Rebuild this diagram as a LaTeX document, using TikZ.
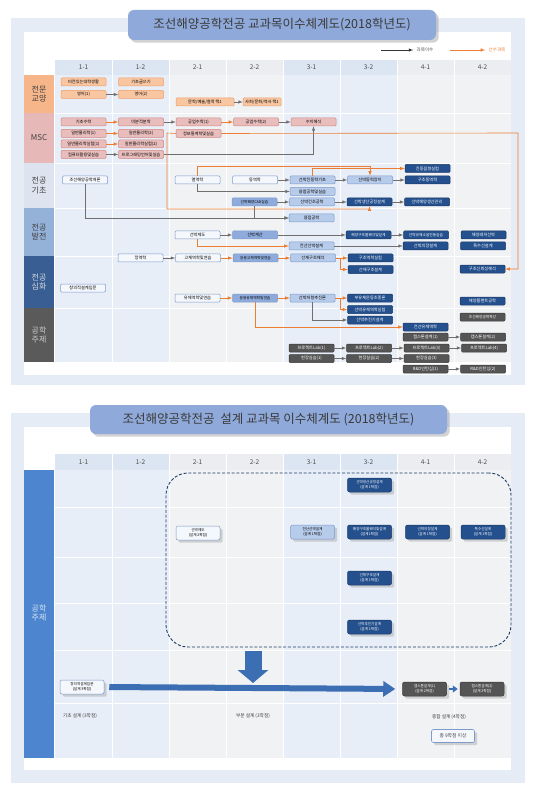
\documentclass[tikz,border=0pt]{standalone}
\usepackage{fontspec}
\setmainfont{Noto Sans CJK KR}
\usetikzlibrary{positioning,arrows.meta,shadows}

\definecolor{panelbg}{HTML}{E6ECF5}
\definecolor{colblue}{HTML}{E8EEF7}
\definecolor{colgray}{HTML}{F1F2F4}
\definecolor{headblue}{HTML}{DCE5F2}
\definecolor{headgray}{HTML}{ECEDF0}
\definecolor{titlebg}{HTML}{8FAADA}
\definecolor{titletxt}{HTML}{3A3A3A}
\definecolor{gyoF}{HTML}{F9C6A2}
\definecolor{gyoD}{HTML}{EE9E68}
\definecolor{mscF}{HTML}{E8BDBC}
\definecolor{mscD}{HTML}{CF8886}
\definecolor{wF}{HTML}{F4F7FC}
\definecolor{bD}{HTML}{7C9BCB}
\definecolor{lF}{HTML}{B7CBEA}
\definecolor{mF}{HTML}{8EABDB}
\definecolor{dF}{HTML}{24508E}
\definecolor{dD}{HTML}{1A3A66}
\definecolor{gF}{HTML}{555555}
\definecolor{gD}{HTML}{3A3A3A}
\definecolor{preline}{HTML}{ED7D31}
\definecolor{seqline}{HTML}{6F6F6F}
\definecolor{rowGyo}{HTML}{F7B68A}
\definecolor{rowMsc}{HTML}{E6B9B8}
\definecolor{rowBase}{HTML}{DDE4EF}
\definecolor{rowDev}{HTML}{94B1D8}
\definecolor{rowDeep}{HTML}{385E94}
\definecolor{rowTopic}{HTML}{5A5A5A}
\definecolor{designbar}{HTML}{4D85CF}
\definecolor{arrowblue}{HTML}{3C6EB4}
\definecolor{dashblue}{HTML}{1F3D6B}

\begin{document}
\begin{tikzpicture}[x=1pt, y=-1pt, >=latex]
        % Styles
        \tikzstyle{cbox} = [draw, rectangle, rounded corners=1pt, minimum width=45pt, minimum height=8pt, inner sep=0.5pt, line width=0.5pt, font=\fontsize{4.2}{4.6}\selectfont]
        \tikzstyle{gyo} = [cbox, fill=gyoF, draw=gyoD]
        \tikzstyle{msc} = [cbox, fill=mscF, draw=mscD]
        \tikzstyle{wbox} = [cbox, fill=wF, draw=bD]
        \tikzstyle{lbox} = [cbox, fill=lF, draw=bD]
        \tikzstyle{mbox} = [cbox, fill=mF, draw=bD]
        \tikzstyle{dbox} = [cbox, fill=dF, draw=dD, text=white]
        \tikzstyle{gbox} = [cbox, fill=gF, draw=gD, text=white]
        \tikzstyle{tight} = [font=\fontsize{3.7}{4.2}\selectfont]
        \tikzstyle{cbox2} = [cbox, minimum width=44pt, minimum height=14pt, rounded corners=2pt, align=center, font=\fontsize{3.6}{4.6}\selectfont, drop shadow={opacity=0.3}]
        \tikzstyle{flow} = [->, draw=seqline, line width=0.5pt]
        \tikzstyle{prereq} = [->, draw=preline, line width=0.6pt]
        \tikzstyle{semlab} = [font=\fontsize{6.5}{7}\selectfont, text=black!70]
        \tikzstyle{rowlab} = [align=center, font=\fontsize{8}{9.5}\selectfont, text=black!75]
        \tikzstyle{titlebox} = [fill=titlebg, rounded corners=6pt, drop shadow={opacity=0.35}, font=\fontsize{12.5}{14}\selectfont, text=titletxt]
        \tikzstyle{steplab} = [font=\fontsize{4.7}{5}\selectfont, text=black!75]
        \tikzstyle{fatdown} = [line width=17pt, draw=arrowblue, -{Triangle[length=13pt,width=30pt]}]
        \tikzstyle{fatright} = [line width=6pt, draw=arrowblue, -{Triangle[length=12pt,width=15pt]}]
        \tikzstyle{fatsmall} = [line width=2.5pt, draw=arrowblue, -{Triangle[length=5pt,width=7pt]}]

        \fill[white] (0,0) rectangle (547,799);
        \useasboundingbox (0,0) rectangle (547,799);

        % ===== Upper chart =====
        \fill[panelbg] (11,18) rectangle (525,385);
        \fill[white] (24,32) rectangle (511,375);
        \node[titlebox, minimum width=308pt, minimum height=30pt] (title1) at (282,25) {조선해양공학전공 교과목이수체계도(2018학년도)};

        % legend
        \coordinate (lgA) at (381,50);
        \node[font=\fontsize{4.5}{5}\selectfont, text=black!70] (lgtextA) at (425,50) {과목이수};
        \draw[->, black!80, line width=0.5pt] (lgA) -- (lgtextA.west);
        \coordinate (lgB) at (450,50);
        \node[font=\fontsize{4.5}{5}\selectfont, text=preline] (lgtextB) at (497,50) {선수과목};
        \draw[->, preline, line width=0.6pt] (lgB) -- (lgtextB.west);

        % columns
        \foreach \i/\hc/\bc in {0/headblue/colblue,1/headblue/colblue,2/headgray/colgray,3/headgray/colgray,4/headblue/colblue,5/headblue/colblue,6/headgray/colgray,7/headgray/colgray} {
            \fill[\hc] ({55+57*\i},60) rectangle ++(57,15);
            \fill[\bc] ({55+57*\i},75) rectangle ++(57,287);
        }
        \foreach \i in {1,...,7}
            \draw[white, line width=0.6pt] ({55+57*\i},60) -- ({55+57*\i},362);
        \foreach \y in {113,163,208,256,308}
            \draw[white, line width=0.8pt] (55,\y) -- (511,\y);
        \foreach \s [count=\i from 0] in {1-1,1-2,2-1,2-2,3-1,3-2,4-1,4-2}
            \node[semlab] (semT\i) at ({83.5+57*\i},67.5) {\s};

        % row labels
        \foreach \a/\b/\c in {75/113/rowGyo,113/163/rowMsc,163/208/rowBase,208/256/rowDev,256/308/rowDeep,308/362/rowTopic}
            \fill[\c] (24,\a) rectangle (54,\b);
        \node[rowlab] (rGyo) at (39,94) {전문\\교양};
        \node[rowlab] (rMsc) at (39,138) {MSC};
        \node[rowlab] (rBase) at (39,185.5) {전공\\기초};
        \node[rowlab] (rDev) at (39,232) {전공\\발전};
        \node[rowlab, text=white!85!black] (rDeep) at (39,282) {전공\\심화};
        \node[rowlab, text=white!80!black] (rTopic) at (39,335) {공학\\주제};

        % --- 전문교양 ---
        \node[gyo] (fresh) at (83.5,82) {비전있는대학생활};
        \node[gyo, below=4pt of fresh] (eng1) {영어(1)};
        \node[gyo, right=12pt of fresh] (write) {기초글쓰기};
        \node[gyo, right=12pt of eng1] (eng2) {영어(2)};
        \node[gyo, minimum width=58pt] (arts) at (205,102) {문학/예술/철학 택1};
        \node[gyo, minimum width=38pt] (social) at (262,102) {사회/문화/역사 택1};

        % --- MSC ---
        \node[msc] (math) at (83.5,122) {기초수학};
        \node[msc, below=3pt of math] (phys1) {일반물리학(1)};
        \node[msc, below=2pt of phys1] (plab1) {일반물리학실험(1)};
        \node[msc, below=2pt of plab1] (comp) {컴퓨터활용및실습};
        \node[msc, right=12pt of math] (calc) {미분적분학};
        \node[msc, right=12pt of phys1] (phys2) {일반물리학(2)};
        \node[msc, right=12pt of plab1] (plab2) {일반물리학실험(2)};
        \node[msc, right=12pt of comp] (prog) {프로그래밍언어및실습};
        \node[msc, right=12pt of calc] (em1) {공업수학(1)};
        \node[msc, right=12pt of phys2] (stat) {정보통계학및실습};
        \node[msc, right=12pt of em1] (em2) {공업수학(2)};
        \node[msc, right=12pt of em2] (numer) {수치해석};

        % --- 전공기초 ---
        \node[wbox] (intro) at (85,180) {조선해양공학개론};
        \node[wbox] (thermo) at (197.5,180) {열역학};
        \node[wbox, right=12pt of thermo] (dyn) {동역학};
        \node[lbox, right=12pt of dyn] (vibbase) {선박진동학기초};
        \node[lbox, right=12pt of vibbase] (power) {선박동력장치};
        \node[dbox, right=12pt of power] (strdyn) {구조동역학};
        \node[dbox, above=3pt of strdyn] (vibexp) {진동음향실험};
        \node[lbox, below=3pt of vibbase] (fuse) {융합공학및실습};
        \node[mbox, tight] (cad) at (254.5,202) {선박해양CAD실습};
        \node[lbox, right=12pt of cad] (build) {선박건조공학};
        \node[dbox, right=12pt of build] (prod) {선박생산공정설계};
        \node[dbox, right=12pt of prod] (mgmt) {선박해양생산관리};
        \node[lbox] (weld) at (311.5,218) {용접공학};

        % --- 전공발전 ---
        \node[wbox] (draft) at (197.5,235) {선박제도};
        \node[mbox, right=12pt of draft] (sc) {선박계산};
        \node[dbox, tight] (ocean) at (368.5,235) {해양구조물해석및설계};
        \node[dbox, tight, right=12pt of ocean] (noise) {선박유체소음진동실습};
        \node[dbox, right=12pt of noise] (leisure) {해양레저선박};
        \node[lbox] (cship) at (311.5,246) {전산선박설계};
        \node[dbox] (outfit) at (425.5,246) {선박의장설계};
        \node[dbox, right=12pt of outfit] (special) {특수선설계};

        % --- 전공심화 ---
        \node[wbox] (statics) at (140.5,258) {정역학};
        \node[wbox, right=12pt of statics] (solid) {고체역학및연습};
        \node[mbox, tight, right=12pt of solid] (asolid) {응용고체역학및연습};
        \node[lbox, right=12pt of asolid] (hull) {선체구조해석};
        \node[dbox, right=12pt of hull] (strexp) {구조역학실험};
        \node[dbox, below=3pt of strexp] (strdes) {선체구조설계};
        \node[dbox] (reliab) at (482.5,269) {구조신뢰성해석};
        \node[wbox] (creat) at (83,288) {창의적설계입문};
        \node[wbox] (fluid) at (197.5,298) {유체역학및연습};
        \node[mbox, tight, right=12pt of fluid] (afluid) {응용유체역학및연습};
        \node[lbox, right=12pt of afluid] (resist) {선박저항추진론};
        \node[dbox, right=12pt of resist] (motion) {부유체운동조종론};
        \node[dbox, below=3pt of motion] (fexp) {선박유체역학실험};
        \node[dbox, below=2pt of fexp] (prop) {선박추진기설계};
        \node[dbox] (plant) at (482.5,301) {해양플랜트공학};
        \node[gbox, tight] (topic) at (482.5,317) {조선해양공학특강};
        \node[dbox] (cfd) at (425.5,327) {전산유체역학};

        % --- 공학주제 ---
        \node[gbox] (cap1) at (425.5,337) {캡스톤설계(1)};
        \node[gbox, right=12pt of cap1] (cap2) {캡스톤설계(2)};
        \node[gbox] (pl1) at (311.5,348) {프로젝트Lab(1)};
        \node[gbox, right=12pt of pl1] (pl2) {프로젝트Lab(2)};
        \node[gbox, right=12pt of pl2] (pl3) {프로젝트Lab(3)};
        \node[gbox, right=12pt of pl3] (pl4) {프로젝트Lab(4)};
        \node[gbox, below=2pt of pl1] (fp1) {현장실습(1)};
        \node[gbox, right=12pt of fp1] (fp2) {현장실습(2)};
        \node[gbox, right=12pt of fp2] (fp3) {현장실습(3)};
        \node[gbox] (rd1) at (425.5,369) {R\&D인턴십(1)};
        \node[gbox, right=12pt of rd1] (rd2) {R\&D인턴십(2)};

        % --- 과목이수 ---
        \draw[flow] (eng1) -- (eng2);
        \draw[flow] (arts) -- (social);
        \draw[flow] (comp) -- (prog);
        \draw[flow] (calc) -- (em1);
        \draw[flow] (em2) -- (numer);
        \draw[flow] (prog.east) -| (numer.south);
        \draw[flow] (intro.south) |- (weld.west);
        \draw[flow] (cad.south) |- (weld.west);
        \draw[flow] (thermo.south) |- (fuse.west);
        \draw[flow] (dyn) -- (vibbase);
        \draw[flow] (vibbase) -- (power);
        \draw[flow] (power) -- (strdyn);
        \draw[flow] (cad) -- (build);
        \draw[flow] (build) -- (prod);
        \draw[flow] (prod) -- (mgmt);
        \draw[flow] (draft) -- (sc);
        \draw[flow] (sc) -- (ocean);
        \draw[flow] (ocean) -- (noise);
        \draw[flow] (cship) -- (outfit);
        \draw[flow] (statics) -- (solid);
        \draw[flow] (resist.south) |- (prop.west);
        \draw[flow] (cap1) -- (cap2);
        \draw[flow] (pl1) -- (pl2);
        \draw[flow] (pl2) -- (pl3);
        \draw[flow] (pl3) -- (pl4);
        \draw[flow] (fp1) -- (fp2);
        \draw[flow] (fp2) -- (fp3);
        \draw[flow] (rd1) -- (rd2);

        % --- 선수과목 ---
        \draw[prereq] (math) -- (calc);
        \draw[prereq] (phys1) -- (phys2);
        \draw[prereq] (plab1) -- (plab2);
        \draw[prereq] (em1) -- (em2);
        \draw[prereq] (stat.east) -- (518,133) |- (reliab.east);
        \draw[prereq] (stat.west) -- (167,133) -- (167,209) -| (prod.south);
        \draw[prereq] (thermo.north) -- (197.5,166) -| (power.north);
        \draw[prereq] (vibbase.north) |- (vibexp.west);
        \draw[prereq] (draft.south) |- (cship.west);
        \draw[prereq] (solid) -- (asolid);
        \draw[prereq] (asolid) -- (hull);
        \draw[prereq] (hull) -- (strexp);
        \draw[prereq] (hull.east) -- ++(5,0) |- (strdes.west);
        \draw[prereq] (fluid) -- (afluid);
        \draw[prereq] (afluid) -- (resist);
        \draw[prereq] (resist) -- (motion);
        \draw[prereq] (resist.east) -- ++(5,0) |- (fexp.west);
        \draw[prereq] (afluid.south) |- (cfd.west);

        % ===== Lower chart =====
        \fill[panelbg] (11,413) rectangle (525,783);
        \fill[white] (24,427) rectangle (511,770);
        \node[titlebox, minimum width=357pt, minimum height=29pt] (title2) at (268.5,419.5) {조선해양공학전공~~설계 교과목 이수체계도 (2018학년도)};

        \foreach \i/\hc/\bc in {0/headblue/colblue,1/headblue/colblue,2/headgray/colgray,3/headgray/colgray,4/headblue/colblue,5/headblue/colblue,6/headgray/colgray,7/headgray/colgray} {
            \fill[\hc] ({55+57*\i},454) rectangle ++(57,16);
            \fill[\bc] ({55+57*\i},470) rectangle ++(57,288);
        }
        \foreach \i in {1,...,7}
            \draw[white, line width=0.6pt] ({55+57*\i},454) -- ({55+57*\i},758);
        \foreach \y in {507,557,603,650,703}
            \draw[white, line width=0.8pt] (55,\y) -- (511,\y);
        \foreach \s [count=\i from 0] in {1-1,1-2,2-1,2-2,3-1,3-2,4-1,4-2}
            \node[semlab] (semB\i) at ({83.5+57*\i},462) {\s};
        \fill[designbar] (24,470) rectangle (54,758);
        \node[rowlab, text=white!78!designbar] (rDesign) at (39,613) {공학\\주제};

        % design group
        \node[draw=dashblue, dash pattern=on 3pt off 1.8pt, line width=0.9pt, rounded corners=22pt, minimum width=345pt, minimum height=174pt, inner sep=0pt] (dgroup) at (338.5,560) {};

        \node[cbox2, fill=wF, draw=bD] (bdraft) at (198,533) {선박제도\\(설계 2학점)};
        \node[cbox2, fill=dF, draw=dD, text=white] (bprod) at (369.5,485) {선박생산공정설계\\(설계 1학점)};
        \node[cbox2, fill=lF, draw=bD] (bcship) at (312.5,532) {전산선박설계\\(설계 1학점)};
        \node[cbox2, fill=dF, draw=dD, text=white] (bocean) at (369.5,532) {해양구조물해석및설계\\(설계1학점)};
        \node[cbox2, fill=dF, draw=dD, text=white] (boutfit) at (427.5,532) {선박의장설계\\(설계 1학점)};
        \node[cbox2, fill=dF, draw=dD, text=white] (bspecial) at (483,532) {특수선설계\\(설계 1학점)};
        \node[cbox2, fill=dF, draw=dD, text=white] (bstrdes) at (369.5,578) {선체구조설계\\(설계 1학점)};
        \node[cbox2, fill=dF, draw=dD, text=white] (bprop) at (369.5,627) {선박추진기설계\\(설계 1학점)};

        \node[cbox2, fill=wF, draw=bD] (bcreat) at (82,687) {창의적설계입문\\(설계 3학점)};
        \node[cbox2, fill=gF, draw=gD, text=white] (bcap1) at (424.5,689) {캡스톤설계(1)\\(설계 2학점)};
        \node[cbox2, fill=gF, draw=gD, text=white] (bcap2) at (482,689) {캡스톤설계(2)\\(설계 2학점)};

        \coordinate (dtop) at (253,651);
        \coordinate (dtip) at (253,683);
        \draw[fatdown] (dtop) -- (dtip);
        \draw[fatright, shorten <=5pt, shorten >=7pt] (bcreat.east) -- (bcap1.west);
        \draw[fatsmall, shorten <=2pt, shorten >=2pt] (bcap1) -- (bcap2);

        \node[steplab] (basic) at (80,716) {기초 설계 (3학점)};
        \node[steplab] (part) at (253,716) {부분 설계 (3학점)};
        \node[steplab] (whole) at (449,717) {종합 설계 (4학점)};
        \node[draw=bD, fill=wF, rounded corners=2pt, minimum width=43pt, minimum height=13pt, line width=0.6pt, drop shadow={opacity=0.3}, font=\fontsize{4.8}{5}\selectfont, text=black!75] (total9) at (453,736) {총 9학점 이상};

\end{tikzpicture}
\end{document}
